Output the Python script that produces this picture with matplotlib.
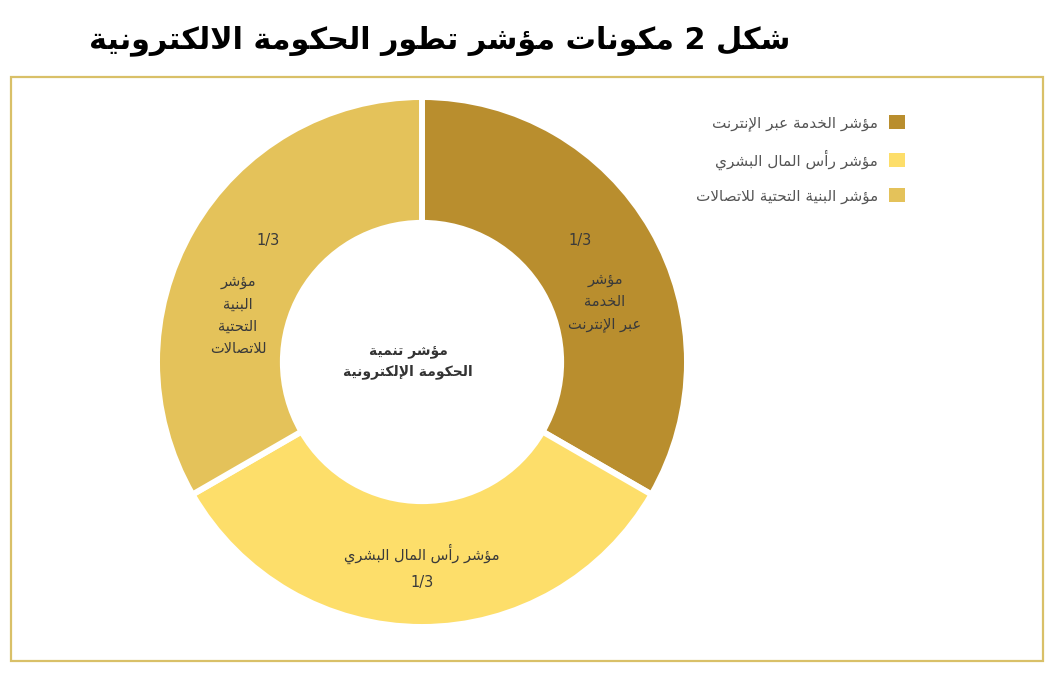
import matplotlib
matplotlib.use("Agg")
import matplotlib.pyplot as plt
from matplotlib.patches import Rectangle, Patch
from fractions import Fraction

# ---------------- data ----------------
title = "شكل 2 مكونات مؤشر تطور الحكومة الالكترونية"
center_label = ["مؤشر تنمية", "الحكومة الإلكترونية"]
categories = ["مؤشر الخدمة عبر الإنترنت", "مؤشر رأس المال البشري", "مؤشر البنية التحتية للاتصالات"]
slice_names = [["مؤشر", "الخدمة", "عبر الإنترنت"],
               ["مؤشر رأس المال البشري"],
               ["مؤشر", "البنية", "التحتية", "للاتصالات"]]
values = [1, 1, 1]
colors = ["#B98E2E", "#FDDE6A", "#E4C25A"]

# ---------------- minimal Arabic shaping (logical -> visual presentation forms) ----------------
FORMS = {
    '\u0621': ('\uFE80', None, None, None),
    '\u0622': ('\uFE81', '\uFE82', None, None),
    '\u0623': ('\uFE83', '\uFE84', None, None),
    '\u0624': ('\uFE85', '\uFE86', None, None),
    '\u0625': ('\uFE87', '\uFE88', None, None),
    '\u0626': ('\uFE89', '\uFE8A', '\uFE8B', '\uFE8C'),
    '\u0627': ('\uFE8D', '\uFE8E', None, None),
    '\u0628': ('\uFE8F', '\uFE90', '\uFE91', '\uFE92'),
    '\u0629': ('\uFE93', '\uFE94', None, None),
    '\u062A': ('\uFE95', '\uFE96', '\uFE97', '\uFE98'),
    '\u062B': ('\uFE99', '\uFE9A', '\uFE9B', '\uFE9C'),
    '\u062C': ('\uFE9D', '\uFE9E', '\uFE9F', '\uFEA0'),
    '\u062D': ('\uFEA1', '\uFEA2', '\uFEA3', '\uFEA4'),
    '\u062E': ('\uFEA5', '\uFEA6', '\uFEA7', '\uFEA8'),
    '\u062F': ('\uFEA9', '\uFEAA', None, None),
    '\u0630': ('\uFEAB', '\uFEAC', None, None),
    '\u0631': ('\uFEAD', '\uFEAE', None, None),
    '\u0632': ('\uFEAF', '\uFEB0', None, None),
    '\u0633': ('\uFEB1', '\uFEB2', '\uFEB3', '\uFEB4'),
    '\u0634': ('\uFEB5', '\uFEB6', '\uFEB7', '\uFEB8'),
    '\u0635': ('\uFEB9', '\uFEBA', '\uFEBB', '\uFEBC'),
    '\u0636': ('\uFEBD', '\uFEBE', '\uFEBF', '\uFEC0'),
    '\u0637': ('\uFEC1', '\uFEC2', '\uFEC3', '\uFEC4'),
    '\u0638': ('\uFEC5', '\uFEC6', '\uFEC7', '\uFEC8'),
    '\u0639': ('\uFEC9', '\uFECA', '\uFECB', '\uFECC'),
    '\u063A': ('\uFECD', '\uFECE', '\uFECF', '\uFED0'),
    '\u0641': ('\uFED1', '\uFED2', '\uFED3', '\uFED4'),
    '\u0642': ('\uFED5', '\uFED6', '\uFED7', '\uFED8'),
    '\u0643': ('\uFED9', '\uFEDA', '\uFEDB', '\uFEDC'),
    '\u0644': ('\uFEDD', '\uFEDE', '\uFEDF', '\uFEE0'),
    '\u0645': ('\uFEE1', '\uFEE2', '\uFEE3', '\uFEE4'),
    '\u0646': ('\uFEE5', '\uFEE6', '\uFEE7', '\uFEE8'),
    '\u0647': ('\uFEE9', '\uFEEA', '\uFEEB', '\uFEEC'),
    '\u0648': ('\uFEED', '\uFEEE', None, None),
    '\u0649': ('\uFEEF', '\uFEF0', None, None),
    '\u064A': ('\uFEF1', '\uFEF2', '\uFEF3', '\uFEF4'),
    '\uFEFB': ('\uFEFB', '\uFEFC', None, None),
    '\uFEF7': ('\uFEF7', '\uFEF8', None, None),
    '\uFEF9': ('\uFEF9', '\uFEFA', None, None),
    '\uFEF5': ('\uFEF5', '\uFEF6', None, None),
}


def shape_word(w):
    w = (w.replace('\u0644\u0627', '\uFEFB').replace('\u0644\u0623', '\uFEF7')
          .replace('\u0644\u0625', '\uFEF9').replace('\u0644\u0622', '\uFEF5'))
    out = []
    for i, c in enumerate(w):
        f = FORMS.get(c)
        if f is None:
            out.append(c)
            continue
        p = FORMS.get(w[i - 1]) if i > 0 else None
        n = FORMS.get(w[i + 1]) if i + 1 < len(w) else None
        jp = p is not None and p[2] is not None and f[1] is not None
        jn = n is not None and f[2] is not None and n[1] is not None
        if jp and jn:
            out.append(f[3])
        elif jp:
            out.append(f[1])
        elif jn:
            out.append(f[2])
        else:
            out.append(f[0])
    return ''.join(out)


def is_arabic(w):
    return any('\u0600' <= ch <= '\u06FF' for ch in w)


def rtl(line):
    words = line.split(' ')
    vis = [shape_word(w)[::-1] if is_arabic(w) else w for w in words]
    return ' '.join(reversed(vis))


# ---------------- figure ----------------
W, H = 1060, 680
fig = plt.figure(figsize=(W / 100, H / 100), dpi=100)
fig.patch.set_facecolor("white")
plt.rcParams['font.family'] = ['DejaVu Sans']

# frame box
fig.patches.append(Rectangle((11 / W, 1 - 661 / H), (1043 - 11) / W, (661 - 77) / H,
                             transform=fig.transFigure, fill=False,
                             edgecolor="#D9C068", linewidth=1.6))

# title
fig.text(790 / W, 1 - 41 / H, rtl(title), ha="right", va="center",
         fontsize=21.8, fontweight="bold", color="black")

# donut
cx, cy, R = 422, 362, 265
ax = fig.add_axes([(cx - R) / W, (H - cy - R) / H, 2 * R / W, 2 * R / H])
wedges, _ = ax.pie(values, colors=colors, startangle=90, counterclock=False,
                   radius=1.0, wedgeprops=dict(width=0.475, edgecolor="white",
                                               linewidth=4.3))
ax.set_xlim(-1, 1)
ax.set_ylim(-1, 1)
ax.set_aspect("equal")
ax.axis("off")

total = sum(values)
fracs = [str(Fraction(v, total)) for v in values]

def px(x, y):
    return ((x - cx) / R, (cy - y) / R)

lab_color = "#3A3A3A"
fs = 10.5
# slice 1 (right)
ax.text(*px(580, 241), fracs[0], ha="center", va="center", fontsize=fs, color=lab_color)
ax.text(*px(605, 302), "\n".join(rtl(s) for s in slice_names[0]), ha="center",
        va="center", fontsize=fs, color=lab_color, linespacing=1.6)
# slice 2 (bottom)
ax.text(*px(422, 567), rtl(slice_names[1][0]) + "\n" + fracs[1], ha="center",
        va="center", fontsize=fs, color=lab_color, linespacing=1.9)
# slice 3 (left)
ax.text(*px(268, 241), fracs[2], ha="center", va="center", fontsize=fs, color=lab_color)
ax.text(*px(238, 315), "\n".join(rtl(s) for s in slice_names[2]), ha="center",
        va="center", fontsize=fs, color=lab_color, linespacing=1.6)

# centre label
ax.text(*px(408, 362), "\n".join(rtl(s) for s in center_label), ha="center",
        va="center", fontsize=10, fontweight="bold", color="#333333", linespacing=1.55)

# legend
handles = [Patch(facecolor=c, edgecolor="none") for c in colors]
fig.legend(handles, [rtl(c) for c in categories], loc="upper right",
           bbox_to_anchor=(905 / W, 1 - 115 / H), frameon=False, markerfirst=False,
           fontsize=11, handlelength=1.05, handleheight=1.05, handletextpad=0.7,
           labelspacing=1.2, borderpad=0, borderaxespad=0, labelcolor="#555555")

fig.savefig("out.png", dpi=100, facecolor="white")
